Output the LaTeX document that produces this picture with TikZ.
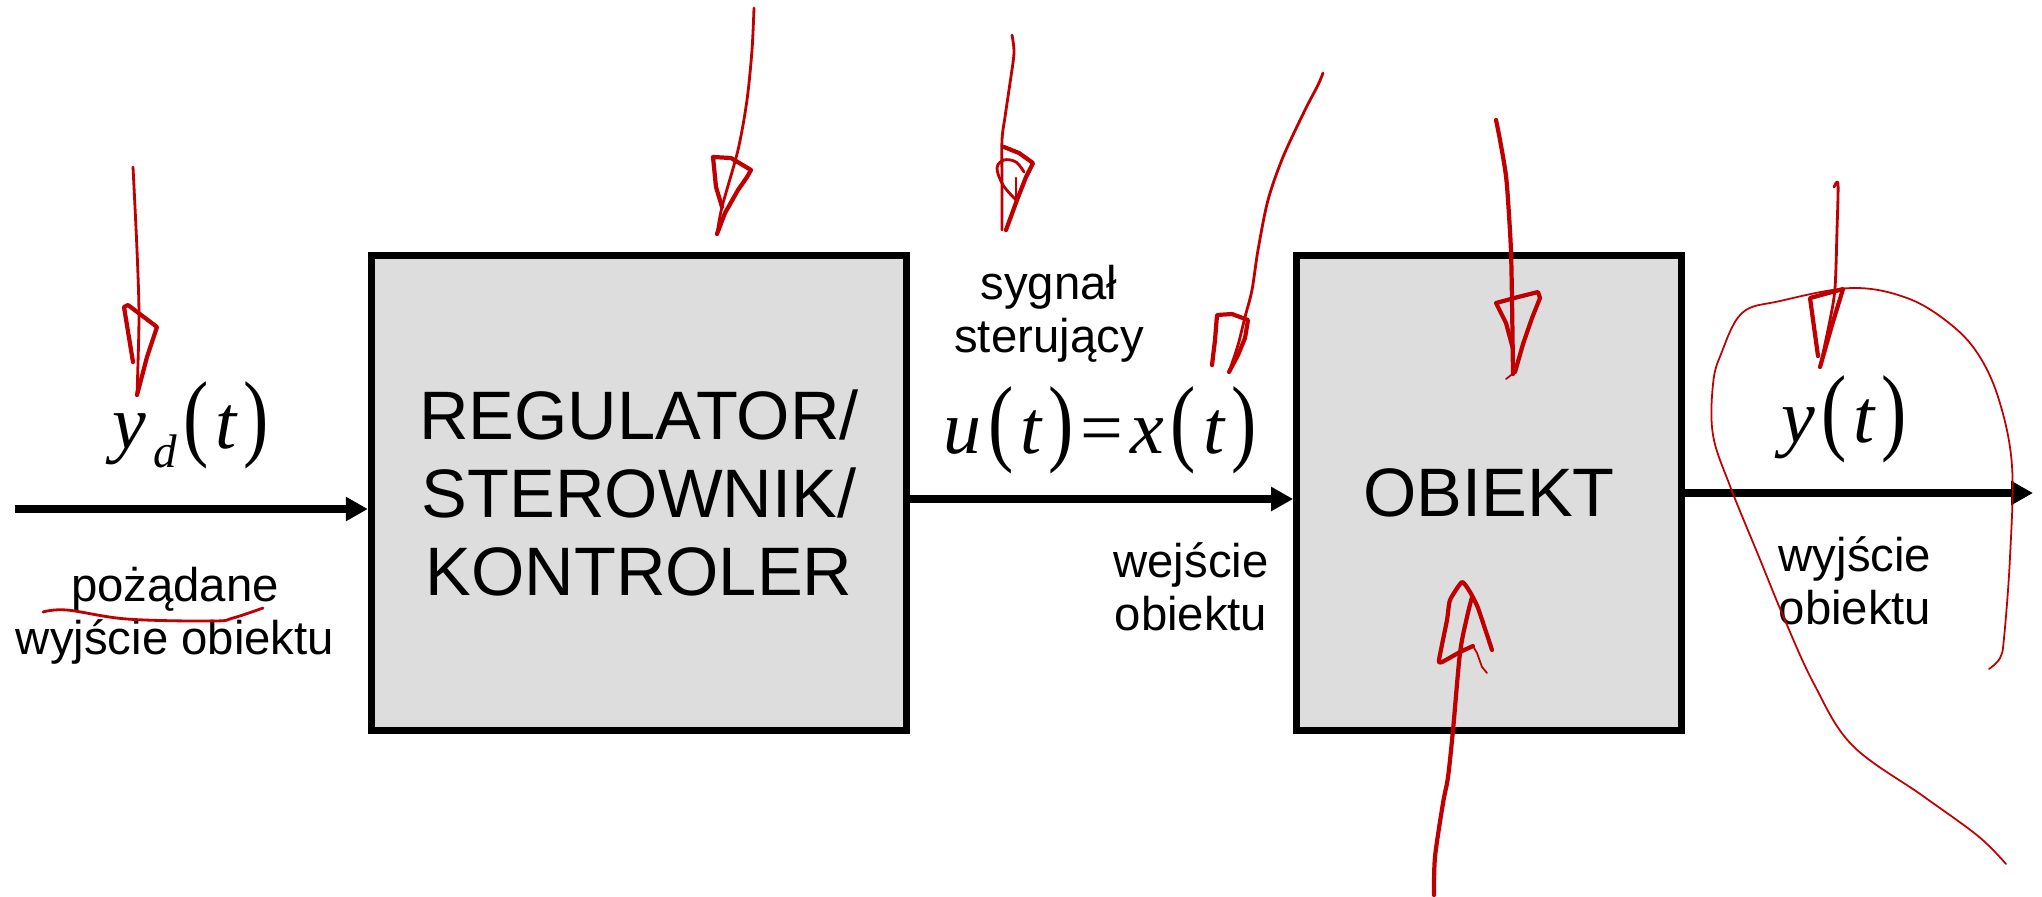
\documentclass[tikz,border=0pt]{standalone}
\usepackage{fontspec}
\setmainfont{Liberation Sans}
\newfontfamily\eqfont{Liberation Serif}
\usepackage{graphicx}
\usepackage{tikz}
\usetikzlibrary{arrows.meta}

\definecolor{boxgray}{RGB}{221,221,221}
\definecolor{inkred}{RGB}{192,0,0}

\newcommand{\eqlp}{\scalebox{1}[1.27]{(}}
\newcommand{\eqrp}{\scalebox{1}[1.27]{)}}
\newcommand{\eqgap}{\kern0.09em}
\newcommand{\mv}[1]{{\itshape #1}}

\tikzset{
  block/.style={draw, line width=2pt, fill=boxgray, minimum height=4.75cm, inner sep=0pt, align=center, font=\fontsize{19.5}{22.3}\selectfont},
  sig/.style={line width=2.2pt, -{Triangle[length=0.22cm,width=0.23cm]}},
  lbl/.style={align=center, inner sep=0pt, font=\fontsize{13.46}{15.1}\selectfont},
  eq/.style={anchor=base, inner sep=0pt, font=\eqfont\fontsize{21.6}{26}\selectfont},
  ink/.style={draw=inkred, line width=0.8pt, line cap=round, line join=round},
  thickink/.style={ink, line width=1.2pt},
  thinink/.style={ink, line width=0.5pt}
}

\begin{document}
\begin{tikzpicture}[x=0.01cm, y=-0.01cm]

\useasboundingbox (0,0) rectangle (2042,896);

% Blocks
\node[block, minimum width=5.35cm] (reg) at (639,493) {REGULATOR/\\STEROWNIK/\\KONTROLER};
\node[block, minimum width=3.845cm] (obj) at (1489,493) {OBIEKT};

% Signals
\coordinate (in) at (15,509);
\coordinate (out) at (2033,493);
\draw[sig] (in) -- (in -| reg.west);
\draw[sig] ([yshift=-0.06cm]reg.east) -- ([yshift=-0.06cm]obj.west);
\draw[sig] (obj.east) -- (out);

% Signal names
\node[eq] (yd) at (191,448) {\mv{y}\eqgap\raisebox{-0.25em}{\fontsize{13.4}{16}\selectfont\itshape d}\eqgap\eqlp\eqgap\mv{t}\eqgap\eqrp};
\node[eq] (ux) at (1100,453) {\mv{u}\eqgap\eqlp\eqgap\mv{t}\eqgap\eqrp\eqgap=\eqgap\mv{x}\eqgap\eqlp\eqgap\mv{t}\eqgap\eqrp};
\node[eq] (yt) at (1844,442) {\mv{y}\eqgap\eqlp\eqgap\mv{t}\eqgap\eqrp};

\node[lbl] (want) at (175,616) {pożądane\\wyjście obiektu};
\node[lbl] (ctrl) at (1049,314) {sygnał\\sterujący};
\node[lbl] (objin) at (1191,587) {wejście\\obiektu};
\node[lbl] (objout) at (1855,581) {wyjście\\obiektu};

% Red ink
\draw[ink] plot[smooth, tension=0.5] coordinates {(133,167) (137,250) (139,317) (137,395)};
\draw[thickink] (133,362) -- (124,307) -- (128,305) -- (157,327) -- (147,357) -- (137,395);
\draw[ink] plot[smooth, tension=0.6] coordinates {(43,612) (67,610) (127,619) (213,621) (233,618) (263,608)};

\draw[ink] plot[smooth, tension=0.5] coordinates {(754,8) (752,50) (747,100) (738,150) (722,207) (717,234)};
\draw[thickink] (722,207) -- (716,187) -- (713,157) -- (731,158) -- (751,170) -- (747,177) -- (738,190) -- (725,213) -- (717,234);

\draw[ink] plot[smooth, tension=0.5] coordinates {(1012,35) (1014,53) (1010,83) (1005,117) (1002,140) (1002,183) (1002,230)};
\draw[thickink] (1004,147) -- (1019,153) -- (1033,163) -- (1026,177) -- (1017,200) -- (1006,230);
\draw[ink] plot[smooth, tension=0.6] coordinates {(1016,200) (1003,185) (997,168) (1004,160) (1016,162) (1024,172)};
\draw[ink] (1016,178) -- (1016,203);

\draw[ink] plot[smooth, tension=0.5] coordinates {(1323,73) (1318,85) (1305,110) (1283,157) (1268,200) (1258,250) (1252,290) (1245,317) (1238,345) (1229,372)};
\draw[thickink] (1212,365) -- (1215,340) -- (1217,315) -- (1232,314) -- (1248,320) -- (1245,338) -- (1238,355) -- (1229,372);

\draw[thickink] plot[smooth, tension=0.5] coordinates {(1496,120) (1500,140) (1506,176) (1509,215) (1511,252) (1512,300) (1513,374)};
\draw[thickink] (1513,349) -- (1506,323) -- (1496,303) -- (1518,297) -- (1538,292) -- (1540,298) -- (1532,318) -- (1523,344) -- (1515,372);
\draw[thinink] (1515,372) -- (1506,379);

\draw[thickink] plot[smooth, tension=0.5] coordinates {(1434,895) (1435,857) (1443,803) (1448,777) (1453,730) (1460,653) (1467,617) (1472,597)};
\draw[thickink] plot[smooth, tension=0.3] coordinates {(1473,646) (1460,652) (1442,662) (1439,660) (1447,620) (1450,600) (1462,582) (1470,592) (1478,608) (1492,650)};
\draw[thinink] (1473,646) -- (1477,653) -- (1482,667) -- (1487,673);

\draw[ink] plot[smooth, tension=0.5] coordinates {(1834,187) (1838,184) (1837,230) (1835,288) (1830,320) (1820,367)};
\draw[thickink] (1818,356) -- (1810,298) -- (1843,289) -- (1832,325) -- (1820,367);

\draw[thinink] plot[smooth, tension=0.6] coordinates {(2006,864) (1978,836) (1923,796) (1852,745) (1814,684) (1784,618) (1759,557) (1730,486) (1713,435) (1713,384) (1721,354) (1742,313) (1780,301) (1852,288) (1907,298) (1949,323) (1978,354) (1999,400) (2012,466) (2010,557) (2004,638) (2000,658) (1989,669)};

\end{tikzpicture}
\end{document}
